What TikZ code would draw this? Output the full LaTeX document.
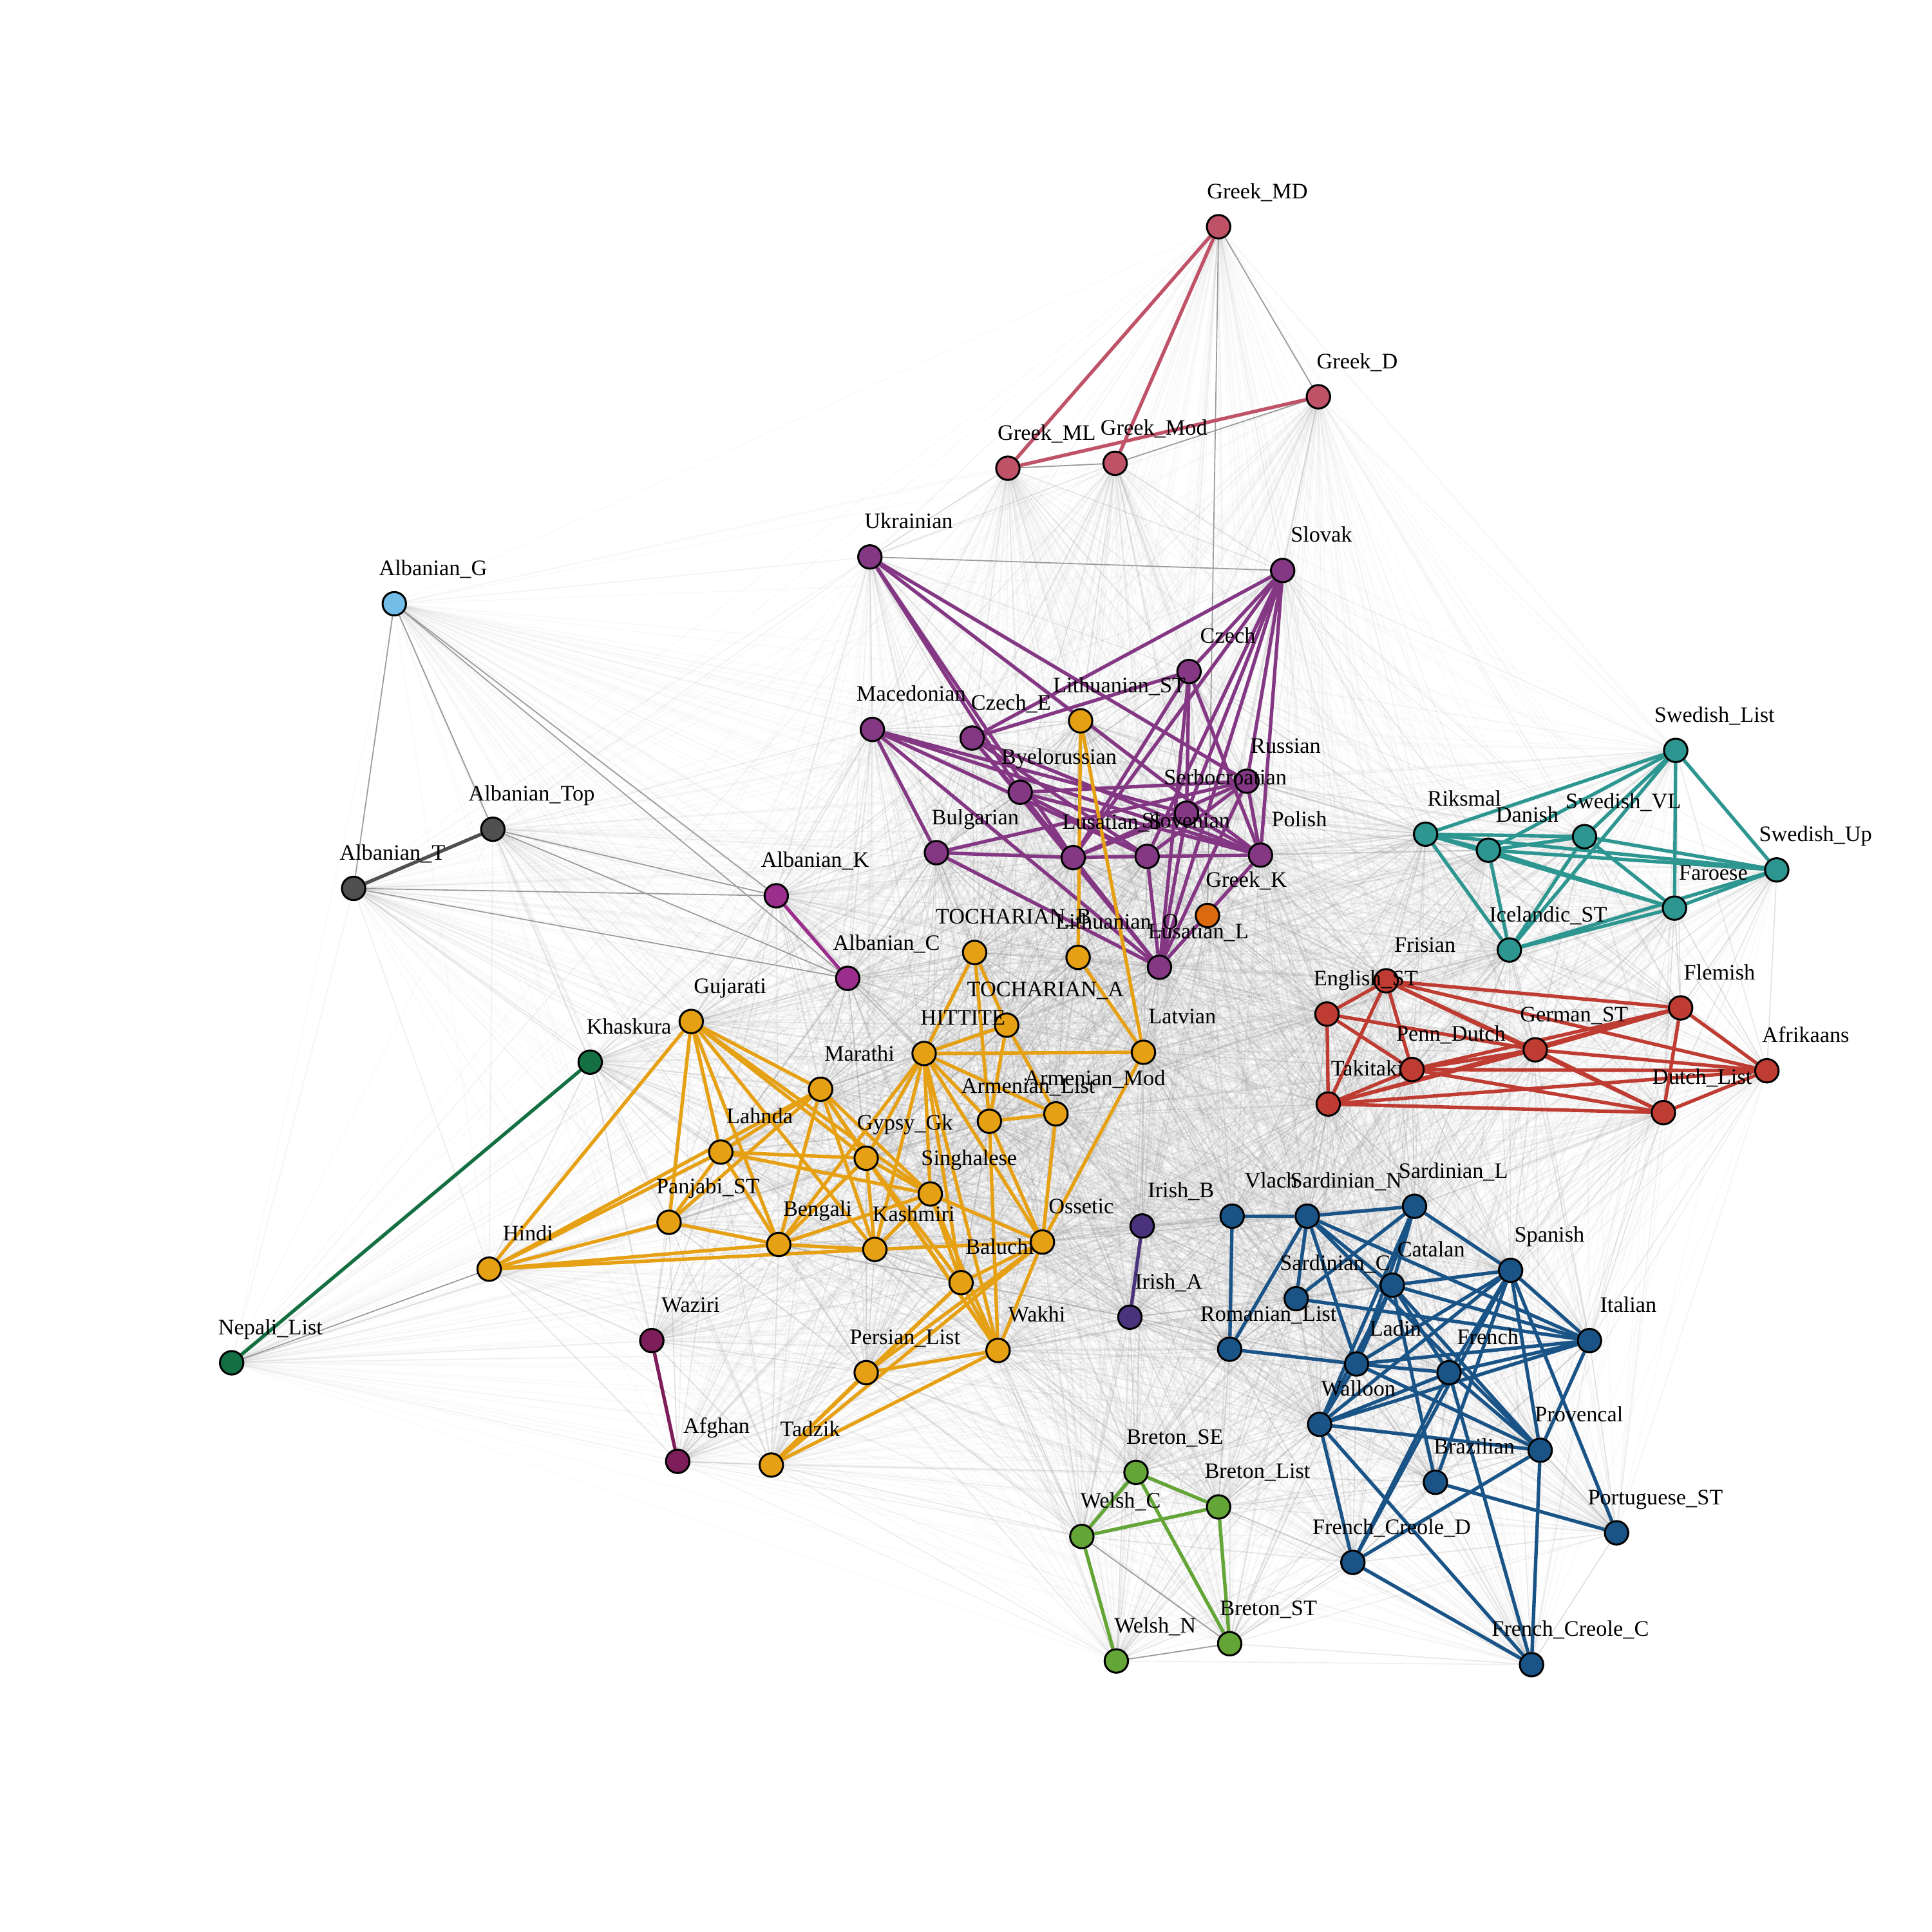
\documentclass[tikz,border=0pt]{standalone}
\usepackage{fontspec}
\setmainfont{Liberation Serif}
\usetikzlibrary{backgrounds}

\definecolor{grk}{RGB}{192,82,104}
\definecolor{grkk}{RGB}{218,105,15}
\definecolor{slv}{RGB}{132,56,132}
\definecolor{alb}{RGB}{155,45,140}
\definecolor{albg}{RGB}{115,190,232}
\definecolor{albt}{RGB}{80,80,80}
\definecolor{ind}{RGB}{230,160,20}
\definecolor{nep}{RGB}{20,112,66}
\definecolor{waz}{RGB}{125,30,90}
\definecolor{nor}{RGB}{45,150,145}
\definecolor{wgm}{RGB}{190,60,50}
\definecolor{rom}{RGB}{26,84,135}
\definecolor{cel}{RGB}{100,165,55}
\definecolor{iri}{RGB}{75,50,125}

% name/x/y/colour/label  (x,y in pixels of the 1568 grid, y downwards)
\def\langs{GreekMD/989/184/grk/Greek\_MD, GreekD/1070/322/grk/Greek\_D,
GreekML/818/380/grk/Greek\_ML, GreekMod/905/376/grk/Greek\_Mod,
GreekK/980/743/grkk/Greek\_K,
AlbG/320/490/albg/Albanian\_G, AlbTop/400/673/albt/Albanian\_Top,
AlbT/287/721/albt/Albanian\_T, AlbK/630/727/alb/Albanian\_K,
AlbC/688/794/alb/Albanian\_C,
Ukrainian/706/452/slv/Ukrainian, Slovak/1041/463/slv/Slovak,
Czech/965/545/slv/Czech, Macedonian/708/592/slv/Macedonian,
CzechE/789/599/slv/Czech\_E, Byelorussian/828/643/slv/Byelorussian,
Russian/1012/634/slv/Russian, Serbocroatian/963/660/slv/Serbocroatian,
Bulgarian/760/692/slv/Bulgarian, LusatianS/871/696/slv/Lusatian\_S,
Slovenian/931/695/slv/Slovenian, Polish/1023/694/slv/Polish,
LusatianL/941/785/slv/Lusatian\_L,
LithST/877/585/ind/Lithuanian\_ST, LithO/875/777/ind/Lithuanian\_O,
Latvian/928/854/ind/Latvian, TochB/791/773/ind/TOCHARIAN\_B,
TochA/817/832/ind/TOCHARIAN\_A, Hittite/750/855/ind/HITTITE,
ArmList/803/910/ind/Armenian\_List, ArmMod/857/904/ind/Armenian\_Mod,
Gujarati/561/829/ind/Gujarati, Marathi/666/884/ind/Marathi,
Lahnda/585/935/ind/Lahnda, GypsyGk/703/940/ind/Gypsy\_Gk,
Singhalese/755/969/ind/Singhalese, PanjabiST/543/992/ind/Panjabi\_ST,
Hindi/397/1030/ind/Hindi, Bengali/632/1010/ind/Bengali,
Kashmiri/710/1014/ind/Kashmiri, Baluchi/780/1041/ind/Baluchi,
Ossetic/846/1008/ind/Ossetic, Wakhi/810/1096/ind/Wakhi,
PersianList/703/1114/ind/Persian\_List, Tadzik/626/1189/ind/Tadzik,
Khaskura/479/862/nep/Khaskura, NepaliList/188/1106/nep/Nepali\_List,
Waziri/529/1088/waz/Waziri, Afghan/550/1186/waz/Afghan,
SwedishList/1360/609/nor/Swedish\_List, Riksmal/1157/677/nor/Riksmal,
Danish/1208/690/nor/Danish, SwedishVL/1286/679/nor/Swedish\_VL,
SwedishUp/1442/706/nor/Swedish\_Up, Faroese/1359/737/nor/Faroese,
IcelandicST/1225/771/nor/Icelandic\_ST,
EnglishST/1077/823/wgm/English\_ST, Frisian/1125/796/wgm/Frisian,
Flemish/1364/818/wgm/Flemish, GermanST/1246/852/wgm/German\_ST,
PennDutch/1146/868/wgm/Penn\_Dutch, Takitaki/1078/896/wgm/Takitaki,
Afrikaans/1434/869/wgm/Afrikaans, DutchList/1350/903/wgm/Dutch\_List,
IrishB/927/995/iri/Irish\_B, IrishA/917/1069/iri/Irish\_A,
Vlach/1000/987/rom/Vlach, SardinianN/1061/987/rom/Sardinian\_N,
SardinianL/1148/979/rom/Sardinian\_L, Spanish/1226/1031/rom/Spanish,
Catalan/1130/1043/rom/Catalan, SardinianC/1052/1054/rom/Sardinian\_C,
RomanianList/998/1095/rom/Romanian\_List, Italian/1290/1088/rom/Italian,
Ladin/1101/1107/rom/Ladin, French/1176/1114/rom/French,
Walloon/1071/1156/rom/Walloon, Provencal/1250/1177/rom/Provencal,
Brazilian/1165/1203/rom/Brazilian, PortugueseST/1312/1244/rom/Portuguese\_ST,
FrenchCreoleD/1098/1268/rom/French\_Creole\_D,
FrenchCreoleC/1243/1351/rom/French\_Creole\_C,
BretonSE/922/1195/cel/Breton\_SE, BretonList/989/1223/cel/Breton\_List,
WelshC/878/1247/cel/Welsh\_C, WelshN/906/1348/cel/Welsh\_N,
BretonST/998/1334/cel/Breton\_ST}

\begin{document}
\begin{tikzpicture}[x=0.01cm, y=-0.01cm,
    lang/.style={circle, draw=black, line width=0.45pt, minimum size=0.19cm, inner sep=0pt},
    nm/.style={font=\fontsize{5.1}{6}\selectfont, inner sep=0pt, anchor=base},
    faint/.style={line width=0.25pt, draw=black!45},
    mid/.style={line width=0.25pt, draw=black!40},
    tie/.style={line width=0.8pt, draw=#1}]
\useasboundingbox (0,0) rectangle (1568,1568);

% languages
\foreach \n/\px/\py/\col/\txt in \langs
    \node[lang, fill=\col] (\n) at (\px,\py) {};
\foreach \n/\px/\py/\col/\txt in \langs
    \node[nm] at (\px+31.5,\py-23) {\txt};

\begin{scope}[on background layer]
% weak links between every pair
\foreach \a/\ax/\ay/\ac/\at [count=\i] in \langs {
  \foreach \b/\bx/\by/\bc/\bt [count=\j] in \langs {
    \ifnum\j>\i
      \pgfmathsetmacro\op{max(0.05,0.38-veclen((\bx-\ax)/100,(\by-\ay)/100)/14)}
      \draw[faint, draw opacity=\op] (\a) -- (\b);
    \fi
  }
}
\foreach \a/\b in {AlbG/AlbT, AlbG/AlbTop, AlbG/AlbK, AlbG/AlbC, AlbTop/AlbK,
    AlbTop/AlbC, AlbT/AlbK, AlbT/AlbC, GreekMD/GreekD, GreekMod/GreekD,
    GreekML/GreekMod, GreekMD/GreekK, Ukrainian/Slovak, WelshN/BretonST,
    WelshC/BretonST, NepaliList/Hindi}
    \draw[mid] (\a) -- (\b);

% strong links
\foreach \a/\b in {GreekMD/GreekML, GreekMD/GreekMod, GreekML/GreekD}
    \draw[tie=grk] (\a) -- (\b);
\draw[tie=albt] (AlbT) -- (AlbTop);
\draw[tie=alb] (AlbK) -- (AlbC);
\draw[tie=nep] (Khaskura) -- (NepaliList);
\draw[tie=waz] (Waziri) -- (Afghan);
\draw[tie=iri] (IrishB) -- (IrishA);

\foreach \a/\b in {Ukrainian/Byelorussian, Ukrainian/LusatianS, Ukrainian/Russian,
    Ukrainian/Polish, Slovak/Czech, Slovak/CzechE, Slovak/LusatianS,
    Slovak/Serbocroatian, Slovak/Russian, Slovak/Polish, Slovak/LusatianL,
    Slovak/Slovenian, Czech/CzechE, Czech/LusatianS, Czech/Polish, Czech/LusatianL,
    Czech/Serbocroatian, Macedonian/Bulgarian, Macedonian/Serbocroatian,
    Macedonian/Slovenian, Macedonian/Polish, Macedonian/LusatianL,
    CzechE/LusatianS, CzechE/LusatianL, CzechE/Slovenian, CzechE/Polish,
    Byelorussian/Russian, Byelorussian/Polish, Byelorussian/LusatianL,
    Byelorussian/Slovenian, Bulgarian/LusatianS, Bulgarian/Russian,
    Bulgarian/LusatianL, LusatianS/Slovenian, LusatianS/Russian,
    LusatianS/LusatianL, LusatianS/Serbocroatian, Slovenian/Polish,
    Slovenian/Russian, Slovenian/LusatianL, Serbocroatian/Polish,
    Serbocroatian/LusatianL, Russian/Polish, Russian/LusatianL, Polish/LusatianL}
    \draw[tie=slv] (\a) -- (\b);

\foreach \a/\b in {LithST/LithO, LithST/Latvian, LithO/Latvian, TochB/TochA,
    TochB/Hittite, TochB/ArmList, TochA/Hittite, TochA/ArmList, TochA/ArmMod,
    Hittite/Latvian, Hittite/ArmList, Hittite/ArmMod, Hittite/GypsyGk,
    Hittite/Singhalese, Hittite/Kashmiri, Hittite/Baluchi, Hittite/Ossetic,
    Hittite/Wakhi, Hittite/Bengali, ArmList/ArmMod, ArmList/Ossetic, ArmList/Wakhi,
    ArmMod/Ossetic, Latvian/Ossetic, Gujarati/Hindi, Gujarati/PanjabiST,
    Gujarati/Lahnda, Gujarati/Bengali, Gujarati/Kashmiri, Gujarati/Marathi,
    Gujarati/Singhalese, Gujarati/GypsyGk, Marathi/Lahnda, Marathi/PanjabiST,
    Marathi/Bengali, Marathi/Kashmiri, Marathi/GypsyGk, Marathi/Singhalese,
    Marathi/Wakhi, Marathi/Hindi, Lahnda/Hindi, Lahnda/PanjabiST, Lahnda/GypsyGk,
    Lahnda/Bengali, Lahnda/Singhalese, PanjabiST/Hindi, PanjabiST/Bengali,
    Hindi/Bengali, Hindi/Kashmiri, Bengali/Kashmiri, Bengali/GypsyGk,
    Bengali/Singhalese, Kashmiri/GypsyGk, Kashmiri/Singhalese, Kashmiri/Ossetic,
    GypsyGk/Singhalese, GypsyGk/Baluchi, GypsyGk/Wakhi, Singhalese/Ossetic,
    Singhalese/Baluchi, Singhalese/Wakhi, Baluchi/Ossetic, Baluchi/Wakhi,
    Baluchi/PersianList, Baluchi/Tadzik, Ossetic/Wakhi, Ossetic/PersianList,
    Ossetic/Tadzik, PersianList/Wakhi, PersianList/Tadzik, Tadzik/Wakhi}
    \draw[tie=ind] (\a) -- (\b);

\foreach \a/\b in {SwedishList/Riksmal, SwedishList/Danish, SwedishList/SwedishVL,
    SwedishList/SwedishUp, SwedishList/Faroese, SwedishList/IcelandicST,
    Riksmal/Danish, Riksmal/SwedishVL, Riksmal/SwedishUp, Riksmal/Faroese,
    Riksmal/IcelandicST, Danish/SwedishVL, Danish/SwedishUp, Danish/Faroese,
    Danish/IcelandicST, SwedishVL/SwedishUp, SwedishVL/Faroese,
    SwedishVL/IcelandicST, SwedishUp/Faroese, SwedishUp/IcelandicST,
    Faroese/IcelandicST}
    \draw[tie=nor] (\a) -- (\b);

\foreach \a/\b in {EnglishST/Frisian, EnglishST/Takitaki, EnglishST/PennDutch,
    EnglishST/GermanST, Frisian/Takitaki, Frisian/PennDutch, Frisian/GermanST,
    Frisian/Flemish, Frisian/DutchList, Frisian/Afrikaans, Takitaki/PennDutch,
    Takitaki/GermanST, Takitaki/Flemish, Takitaki/DutchList, Takitaki/Afrikaans,
    PennDutch/GermanST, PennDutch/Flemish, PennDutch/DutchList,
    PennDutch/Afrikaans, GermanST/Flemish, GermanST/DutchList,
    GermanST/Afrikaans, Flemish/DutchList, Flemish/Afrikaans, DutchList/Afrikaans}
    \draw[tie=wgm] (\a) -- (\b);

\foreach \a/\b in {Vlach/SardinianN, Vlach/RomanianList, SardinianN/SardinianL,
    SardinianN/SardinianC, SardinianN/RomanianList, SardinianN/Ladin,
    SardinianN/Catalan, SardinianN/Italian, SardinianN/Provencal,
    SardinianL/SardinianC, SardinianL/Catalan, SardinianL/Ladin,
    SardinianL/Walloon, SardinianL/Spanish, SardinianC/Italian,
    RomanianList/Ladin, Catalan/Spanish, Catalan/Italian, Catalan/Ladin,
    Catalan/Walloon, Catalan/Provencal, Catalan/Brazilian, Catalan/French,
    Spanish/Italian, Spanish/Ladin, Spanish/Walloon, Spanish/French,
    Spanish/Provencal, Spanish/Brazilian, Spanish/PortugueseST,
    Spanish/FrenchCreoleD, Italian/Ladin, Italian/French, Italian/Walloon,
    Italian/Provencal, Ladin/French, Ladin/Walloon, Ladin/Provencal,
    French/Walloon, French/Provencal, French/FrenchCreoleD, French/FrenchCreoleC,
    Walloon/Provencal, Walloon/FrenchCreoleD, Walloon/FrenchCreoleC,
    Provencal/FrenchCreoleD, Provencal/FrenchCreoleC, Brazilian/PortugueseST,
    FrenchCreoleD/FrenchCreoleC}
    \draw[tie=rom] (\a) -- (\b);

\foreach \a/\b in {BretonSE/BretonList, BretonSE/WelshC, BretonSE/BretonST,
    BretonList/WelshC, BretonList/BretonST, WelshC/WelshN}
    \draw[tie=cel] (\a) -- (\b);
\end{scope}
\end{tikzpicture}
\end{document}
